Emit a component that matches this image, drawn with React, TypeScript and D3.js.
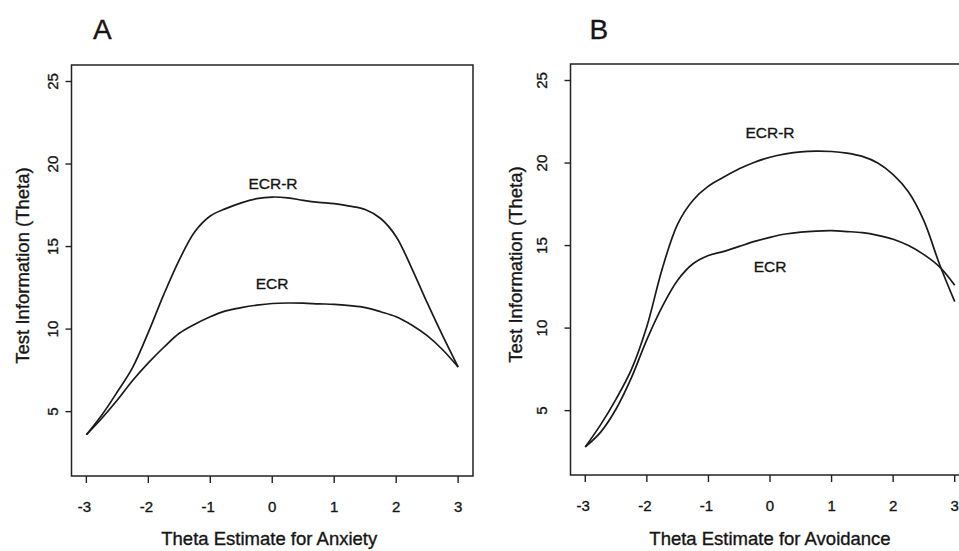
import React, { useEffect, useRef } from "react";
import * as d3 from "d3";

const theta = [-3, -2.75, -2.5, -2.25, -2, -1.75, -1.5, -1.25, -1, -0.75, -0.5, -0.25, 0, 0.25, 0.5, 0.75, 1, 1.25, 1.5, 1.75, 2, 2.25, 2.5, 2.75, 3];

const anxietyECRR = [3.6, 4.8, 6.2, 7.7, 9.8, 12.1, 14.2, 15.9, 16.85, 17.3, 17.65, 17.9, 18.0, 17.95, 17.8, 17.68, 17.6, 17.45, 17.25, 16.7, 15.6, 13.7, 11.6, 9.6, 7.7];
const anxietyECR = [3.6, 4.6, 5.7, 6.9, 7.95, 8.9, 9.75, 10.3, 10.75, 11.1, 11.3, 11.45, 11.55, 11.58, 11.57, 11.53, 11.5, 11.42, 11.3, 11.05, 10.75, 10.25, 9.6, 8.75, 7.7];

const avoidanceECRR = [2.8, 4.15, 5.7, 7.5, 10.1, 13.6, 16.3, 17.75, 18.6, 19.15, 19.65, 20.05, 20.35, 20.55, 20.68, 20.72, 20.7, 20.6, 20.4, 20.0, 19.3, 18.25, 16.5, 13.9, 11.6];
const avoidanceECR = [2.8, 3.7, 5.1, 7.0, 9.3, 11.3, 12.9, 13.9, 14.4, 14.65, 14.95, 15.25, 15.5, 15.7, 15.82, 15.88, 15.9, 15.85, 15.78, 15.62, 15.38, 15.0, 14.45, 13.72, 12.6];

const xTicks = [-3, -2, -1, 0, 1, 2, 3];
const yTicks = [5, 10, 15, 20, 25];

const panelLetters = ["A", "B"];
const xTitles = ["Theta Estimate for Anxiety", "Theta Estimate for Avoidance"];
const yTitle = "Test Information (Theta)";
const seriesNames = ["ECR-R", "ECR"];

const FONT = "'Liberation Sans', Arial, Helvetica, sans-serif";
const INK = "#151515";

type Panel = {
  left: number; right: number; top: number; bottom: number;
  ecrr: number[]; ecr: number[];
  letter: string; xTitle: string;
  letterX: number; tickLabelY: number; yTickLabelX: number; yTitleX: number;
  ecrrLabel: [number, number]; ecrLabel: [number, number];
};

const panels: Panel[] = [
  {
    left: 71.5, right: 473, top: 65, bottom: 476,
    ecrr: anxietyECRR, ecr: anxietyECR,
    letter: panelLetters[0], xTitle: xTitles[0],
    letterX: 93, tickLabelY: 512, yTickLabelX: 57.5, yTitleX: 29,
    ecrrLabel: [273, 188.5], ecrLabel: [272, 288.5],
  },
  {
    left: 570.5, right: 969.5, top: 64, bottom: 475,
    ecrr: avoidanceECRR, ecr: avoidanceECR,
    letter: panelLetters[1], xTitle: xTitles[1],
    letterX: 589.5, tickLabelY: 510.5, yTickLabelX: 547, yTitleX: 522,
    ecrrLabel: [770, 137.5], ecrLabel: [770, 271.5],
  },
];

function styleText(sel: d3.Selection<SVGTextElement, unknown, null, undefined>, size: number) {
  return sel
    .attr("font-family", FONT)
    .attr("font-size", size)
    .attr("fill", INK)
    .attr("stroke", INK)
    .attr("stroke-width", 0.35);
}

export default function App() {
  const ref = useRef<SVGSVGElement | null>(null);

  useEffect(() => {
    const svg = d3.select(ref.current);
    svg.selectAll("*").remove();
    svg.append("rect").attr("width", 959).attr("height", 551).attr("fill", "#fff");

    panels.forEach((p) => {
      const x = d3.scaleLinear().domain([-3.24, 3.24]).range([p.left, p.right]);
      const y = d3.scaleLinear().domain([1.1, 26]).range([p.bottom, p.top]);
      const g = svg.append("g");

      const line = d3
        .line<number>()
        .x((_, i) => x(theta[i]))
        .y((d) => y(d))
        .curve(d3.curveCatmullRom.alpha(0.5));
      [p.ecrr, p.ecr].forEach((s) => {
        g.append("path")
          .attr("d", line(s) as string)
          .attr("fill", "none")
          .attr("stroke", "#1a1a1a")
          .attr("stroke-width", 1.7);
      });

      g.append("rect")
        .attr("x", p.left)
        .attr("y", p.top)
        .attr("width", p.right - p.left)
        .attr("height", p.bottom - p.top)
        .attr("fill", "none")
        .attr("stroke", "#222")
        .attr("stroke-width", 1.5);

      const xa = g.append("g");
      xTicks.forEach((t) => {
        xa.append("line")
          .attr("x1", x(t)).attr("x2", x(t))
          .attr("y1", p.bottom).attr("y2", p.bottom + 7)
          .attr("stroke", "#222").attr("stroke-width", 1.4);
        styleText(
          xa.append("text")
            .attr("x", x(t) - (t < 0 ? 2 : 0))
            .attr("y", p.tickLabelY)
            .attr("text-anchor", "middle"),
          15
        ).text(String(t));
      });

      const ya = g.append("g");
      yTicks.forEach((t) => {
        ya.append("line")
          .attr("x1", p.left - 6).attr("x2", p.left)
          .attr("y1", y(t)).attr("y2", y(t))
          .attr("stroke", "#222").attr("stroke-width", 1.4);
        styleText(
          ya.append("text")
            .attr("transform", `translate(${p.yTickLabelX},${y(t)}) rotate(-90)`)
            .attr("text-anchor", "middle"),
          15
        ).text(String(t));
      });

      styleText(g.append("text").attr("x", p.letterX).attr("y", 39), 28).text(p.letter);

      styleText(
        g.append("text")
          .attr("x", (p.left + p.right) / 2 - (p.letter === "B" ? 0 : 3))
          .attr("y", 545)
          .attr("text-anchor", "middle"),
        18.5
      ).text(p.xTitle);

      styleText(
        g.append("text")
          .attr("transform", `translate(${p.yTitleX},${(p.top + p.bottom) / 2 - 5}) rotate(-90)`)
          .attr("text-anchor", "middle"),
        18.5
      ).text(yTitle);

      styleText(
        g.append("text")
          .attr("x", p.ecrrLabel[0]).attr("y", p.ecrrLabel[1])
          .attr("text-anchor", "middle"),
        15.5
      ).text(seriesNames[0]);
      styleText(
        g.append("text")
          .attr("x", p.ecrLabel[0]).attr("y", p.ecrLabel[1])
          .attr("text-anchor", "middle"),
        15.5
      ).text(seriesNames[1]);
    });
  }, []);

  return (
    <svg
      ref={ref}
      width={959}
      height={551}
      style={{ position: "absolute", left: 0, top: 0, display: "block" }}
    />
  );
}
